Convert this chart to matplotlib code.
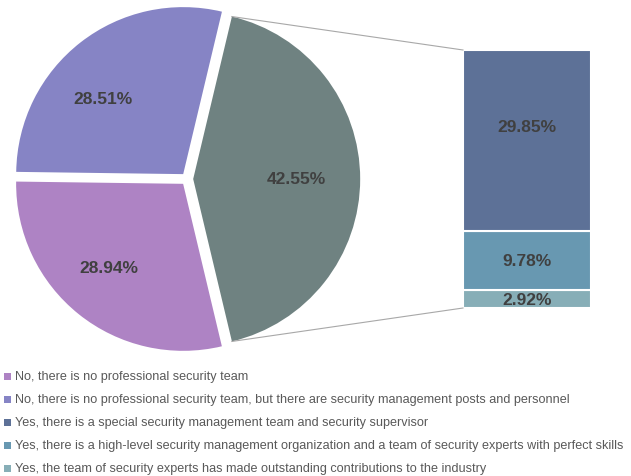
import numpy as np
import matplotlib
matplotlib.use("Agg")
import matplotlib.pyplot as plt
from matplotlib.patches import Rectangle

# ---- data ----
pie_labels = ["Yes (combined)",
              "No, there is no professional security team, but there are security management posts and personnel",
              "No, there is no professional security team"]
pie_values = [42.55, 28.51, 28.94]
pie_colors = ["#6f8281", "#8684c5", "#ae83c4"]

bar_labels = ["Yes, the team of security experts has made outstanding contributions to the industry",
              "Yes, there is a high-level security management organization and a team of security experts with perfect skills",
              "Yes, there is a special security management team and security supervisor"]
bar_values = [2.92, 9.78, 29.85]
bar_colors = ["#87aeb7", "#6898b1", "#5d7197"]

legend_labels = [
    "No, there is no professional security team",
    "No, there is no professional security team, but there are security management posts and personnel",
    "Yes, there is a special security management team and security supervisor",
    "Yes, there is a high-level security management organization and a team of security experts with perfect skills",
    "Yes, the team of security experts has made outstanding contributions to the industry",
]
legend_colors = ["#ae83c4", "#8684c5", "#5d7197", "#6898b1", "#87aeb7"]

# ---- figure ----
W, H = 631, 477
fig = plt.figure(figsize=(W / 100, H / 100), dpi=100)
ax = fig.add_axes([0, 0, 1, 1])
R_PX = 167.0
CX, CY = 187.0, 180.0
XLIM = ((0 - CX) / R_PX, (W - CX) / R_PX)
YLIM = ((CY - H) / R_PX, (CY - 0) / R_PX)
ax.axis("off")

label_font = dict(family="Liberation Sans", weight="bold", size=12.5, color="#404040")

start = -pie_values[0] * 3.6 / 2
explode = [0.037, 0.037, 0.037]
wedges, texts, autotexts = ax.pie(
    pie_values, colors=pie_colors, startangle=start, counterclock=True,
    explode=explode, radius=1.0, autopct="%.2f%%", pctdistance=0.63,
    wedgeprops=dict(linewidth=0), textprops=label_font)

# label placement (distance from wedge centre, angle shift in degrees)
lab_dist = [0.62, 0.66, 0.67]
lab_shift = [0.0, 9.0, -2.7]
for wdg, t, d, s in zip(wedges, autotexts, lab_dist, lab_shift):
    a = np.deg2rad((wdg.theta1 + wdg.theta2) / 2 + s)
    cx0, cy0 = wdg.center
    t.set_position((cx0 + d * np.cos(a), cy0 + d * np.sin(a)))

# ---- bar of pie ----
k = 0.03631
total = sum(bar_values)
bar_left = (463 - CX) / R_PX
bar_w = (591 - 463) / R_PX
bottom = -total * k / 2
bar_x = bar_left + bar_w / 2
bottoms = []
b = bottom
for v, c in zip(bar_values, bar_colors):
    ax.bar(bar_x, v * k, width=bar_w, bottom=b, color=c, edgecolor="white", linewidth=1.5)
    bottoms.append(b)
    b += v * k
bar_top = b

offsets = [0, 0, 0.085]
for v, b0, off in zip(bar_values, bottoms, offsets):
    ax.text(bar_x, b0 + v * k / 2 + off, f"{v:.2f}%", ha="center", va="center", **label_font)

# connector lines
w = wedges[0]
cxw, cyw = w.center
r = w.r
t1, t2 = np.deg2rad(w.theta1), np.deg2rad(w.theta2)
ax.plot([cxw + r * np.cos(t2), bar_left], [cyw + r * np.sin(t2), bar_top], color="#a8a8a8", lw=0.8)
ax.plot([cxw + r * np.cos(t1), bar_left], [cyw + r * np.sin(t1), bottom], color="#a8a8a8", lw=0.8)

ax.set_xlim(*XLIM)
ax.set_ylim(*YLIM)
ax.set_aspect("equal", adjustable="box")
ax.set_position([0, 0, 1, 1])

# ---- legend ----
ys = [377, 400, 423, 446, 469]
for lab, col, y in zip(legend_labels, legend_colors, ys):
    fig.patches.append(Rectangle((4 / W, 1 - (y + 3.5) / H), 6.5 / W, 6.5 / H,
                                 transform=fig.transFigure, facecolor=col, edgecolor="none"))
    fig.text(15 / W, 1 - y / H, lab, ha="left", va="center",
             family="Liberation Sans", size=9.1, color="#595959")

fig.savefig("out.png", dpi=100)
